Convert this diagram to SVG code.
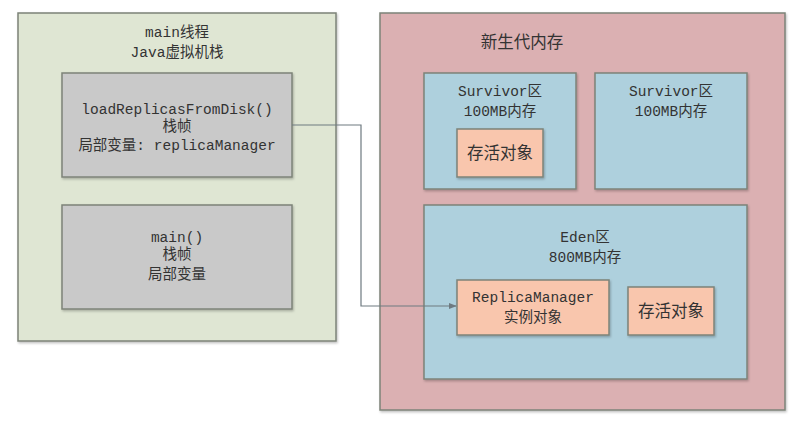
<svg xmlns="http://www.w3.org/2000/svg" width="799" height="430" viewBox="0 0 799 430">
<defs>
<marker id="arr" viewBox="0 0 10 10" refX="9" refY="5" markerWidth="8" markerHeight="8" markerUnits="userSpaceOnUse" orient="auto">
<path d="M0,1 L10,5 L0,9 Z" fill="#6e7a80"/>
</marker>
<filter id="sh" x="-5%" y="-5%" width="110%" height="115%">
<feDropShadow dx="1" dy="1.5" stdDeviation="1" flood-color="#000" flood-opacity="0.25"/>
</filter>
</defs>
<style>
rect{stroke:#7d8378;stroke-width:1.5;filter:url(#sh)}
.green{fill:#dfe6d3}
.gray{fill:#c9c9c9}
.pink{fill:#dbb0b2}
.blue{fill:#aed0dd}
.orange{fill:#f9c6ad}
text{font-family:"Liberation Mono","Noto Sans CJK SC",monospace;font-size:14.5px;fill:#333;text-anchor:middle}
.big{font-family:"Noto Sans CJK SC",sans-serif;font-size:16.5px}
.conn{fill:none;stroke:#6e7a80;stroke-width:1.2}
</style>
<rect width="799" height="430" fill="#fff" style="stroke:none;filter:none"/>
<g id="jvm-stack">
<rect class="green" x="18" y="13" width="318" height="328"/>
<text x="177" y="37">main线程</text>
<text x="177" y="57">Java虚拟机栈</text>
</g>
<g id="frame-load">
<rect class="gray" x="62" y="73" width="230" height="104"/>
<text x="177" y="114">loadReplicasFromDisk()</text>
<text x="177" y="131">栈帧</text>
<text x="177" y="150">局部变量: replicaManager</text>
</g>
<g id="frame-main">
<rect class="gray" x="62" y="205" width="230" height="104"/>
<text x="177" y="242">main()</text>
<text x="177" y="259">栈帧</text>
<text x="177" y="279">局部变量</text>
</g>
<g id="young-gen">
<rect class="pink" x="380" y="13" width="405" height="397"/>
<text x="522" y="48" class="big">新生代内存</text>
</g>
<g id="survivor1">
<rect class="blue" x="424" y="73" width="152" height="116"/>
<text x="500" y="96">Survivor区</text>
<text x="500" y="116">100MB内存</text>
</g>
<g id="survivor1-obj">
<rect class="orange" x="457" y="129" width="86" height="48"/>
<text x="500" y="159" class="big">存活对象</text>
</g>
<g id="survivor2">
<rect class="blue" x="595" y="73" width="152" height="116"/>
<text x="671" y="96">Survivor区</text>
<text x="671" y="116">100MB内存</text>
</g>
<g id="eden">
<rect class="blue" x="424" y="205" width="323" height="174"/>
<text x="585" y="242">Eden区</text>
<text x="585" y="262">800MB内存</text>
</g>
<g id="replica-manager">
<rect class="orange" x="457" y="280" width="152" height="55"/>
<text x="533" y="302">ReplicaManager</text>
<text x="533" y="322">实例对象</text>
</g>
<g id="eden-obj">
<rect class="orange" x="628" y="287" width="86" height="48"/>
<text x="671" y="317" class="big">存活对象</text>
</g>
<g id="connectors">
<path class="conn" d="M292,125 H361 V306 H456" marker-end="url(#arr)"/>
</g>
</svg>
